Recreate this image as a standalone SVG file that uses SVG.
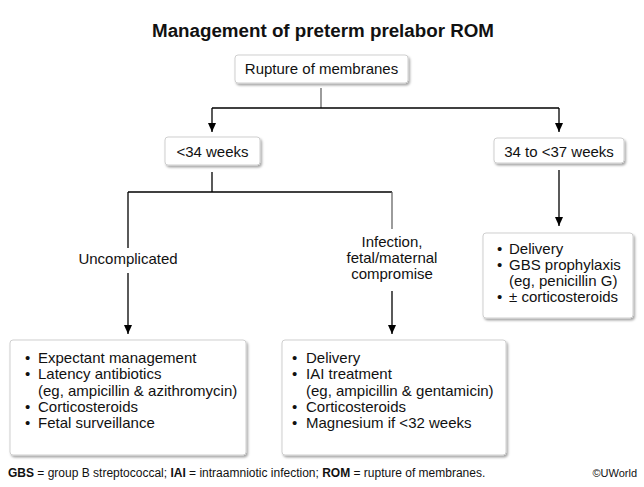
<svg xmlns="http://www.w3.org/2000/svg" width="644" height="487" viewBox="0 0 644 487">
<style>
text{font-family:"Liberation Sans",Arial,sans-serif;fill:#111}
.t{font-size:15px}
.c{text-anchor:middle}
.box{fill:#fff;stroke:#cfcfcf;stroke-width:1;filter:url(#sh)}
.ln{stroke:#000;stroke-width:1.3;fill:none}
.gl{stroke:#666;stroke-width:1.3;fill:none}
.ft{font-size:12px}
</style>
<defs>
<filter id="sh" x="-10%" y="-10%" width="130%" height="140%">
<feDropShadow dx="1.5" dy="2" stdDeviation="1.2" flood-color="#000" flood-opacity="0.35"/>
</filter>
<marker id="ar" viewBox="0 0 9 8" refX="9" refY="4" markerWidth="9" markerHeight="8" markerUnits="userSpaceOnUse" orient="auto">
<path d="M0,0 L9,4 L0,8 Z" fill="#000"/>
</marker>
</defs>
<rect width="644" height="487" fill="#fff"/>
<text x="323" y="37" class="c" style="font-size:18px;font-weight:bold" textLength="342" lengthAdjust="spacingAndGlyphs">Management of preterm prelabor ROM</text>

<g id="connectors">
<path class="gl" d="M321,88 V108"/>
<path class="ln" d="M212,108 H559"/>
<path class="ln" d="M212,108 V132" marker-end="url(#ar)"/>
<path class="ln" d="M559,108 V132" marker-end="url(#ar)"/>
<path class="ln" d="M212,172 V192"/>
<path class="ln" d="M128,192 H392"/>
<path class="ln" d="M128,192 V248"/>
<path class="ln" d="M128,273 V334" marker-end="url(#ar)"/>
<path class="gl" d="M392,192 V229"/>
<path class="ln" d="M392,291 V334" marker-end="url(#ar)"/>
<path class="ln" d="M559,170 V226" marker-end="url(#ar)"/>
<text x="128" y="264" class="t c">Uncomplicated</text>
<text x="392" y="247" class="t c">Infection,</text>
<text x="392" y="263" class="t c">fetal/maternal</text>
<text x="392" y="279" class="t c">compromise</text>
</g>

<g id="rupture">
<rect class="box" x="235" y="55" width="173" height="28" rx="3"/>
<text x="321.5" y="74" class="t c">Rupture of membranes</text>
</g>

<g id="lt34">
<rect class="box" x="165" y="137" width="95" height="28" rx="3"/>
<text x="212.5" y="157" class="t c">&lt;34 weeks</text>
</g>

<g id="w34to37">
<rect class="box" x="494" y="138" width="130" height="25" rx="3"/>
<text x="559" y="157" class="t c">34 to &lt;37 weeks</text>
</g>

<g id="late">
<rect class="box" x="483" y="233" width="150" height="85" rx="3"/>
<text class="t"><tspan x="497" y="254">•</tspan><tspan x="509" y="254">Delivery</tspan><tspan x="497" y="270">•</tspan><tspan x="509" y="270">GBS prophylaxis</tspan><tspan x="509" y="286">(eg, penicillin G)</tspan><tspan x="497" y="302">•</tspan><tspan x="509" y="302">± corticosteroids</tspan></text>
</g>

<g id="uncomplicated">
<rect class="box" x="10" y="340" width="236" height="115" rx="3"/>
<text class="t"><tspan x="25" y="363">•</tspan><tspan x="38" y="363">Expectant management</tspan><tspan x="25" y="379">•</tspan><tspan x="38" y="379">Latency antibiotics</tspan><tspan x="38" y="396">(eg, ampicillin &amp; azithromycin)</tspan><tspan x="25" y="412">•</tspan><tspan x="38" y="412">Corticosteroids</tspan><tspan x="25" y="428">•</tspan><tspan x="38" y="428">Fetal surveillance</tspan></text>
</g>

<g id="infection">
<rect class="box" x="282" y="340" width="224" height="115" rx="3"/>
<text class="t"><tspan x="292" y="363">•</tspan><tspan x="306" y="363">Delivery</tspan><tspan x="292" y="379">•</tspan><tspan x="306" y="379">IAI treatment</tspan><tspan x="306" y="396">(eg, ampicillin &amp; gentamicin)</tspan><tspan x="292" y="412">•</tspan><tspan x="306" y="412">Corticosteroids</tspan><tspan x="292" y="428">•</tspan><tspan x="306" y="428">Magnesium if &lt;32 weeks</tspan></text>
</g>

<text x="8" y="477" class="ft"><tspan font-weight="bold">GBS</tspan> = group B streptococcal; <tspan font-weight="bold">IAI</tspan> = intraamniotic infection; <tspan font-weight="bold">ROM</tspan> = rupture of membranes.</text>
<text x="637" y="477" style="font-size:11px;text-anchor:end">©UWorld</text>
</svg>
